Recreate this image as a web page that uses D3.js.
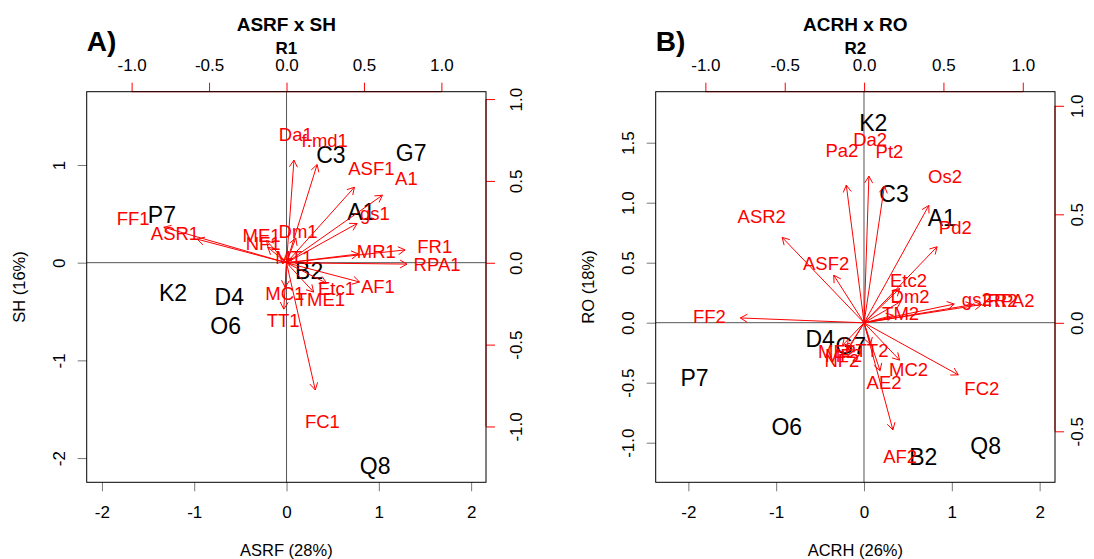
<!DOCTYPE html>
<html>
<head>
<meta charset="utf-8">
<script src="https://cdn.jsdelivr.net/npm/d3@7"></script>
<style>
  body { margin: 0; background: #fff; }
  svg { display: block; }
</style>
</head>
<body>
<svg id="chart" width="1094" height="559"></svg>
<script>
// ---- Panel A: ASRF x SH (R1) ----
const sampleNamesA = ["P7", "K2", "D4", "O6", "C3", "G7", "A1", "B2", "Q8"];
const sampleXA = [-1.35, -1.23, -0.62, -0.66, 0.48, 1.35, 0.81, 0.245, 0.96];
const sampleYA = [0.49, -0.31, -0.35, -0.65, 1.11, 1.13, 0.52, -0.08, -2.08];

const varNamesA = ["Da1", "f.md1", "ASF1", "A1", "gs1", "MR1", "FR1", "RPA1", "AF1", "Etc1",
                   "TME1", "MC1", "TT1", "FC1", "FF1", "ASR1", "ME1", "NF1", "Dm1", "MT1"];
const varXA = [0.06, 0.247, 0.548, 0.774, 0.57, 0.58, 0.957, 0.972, 0.59, 0.323,
               0.219, -0.011, -0.022, 0.232, -0.99, -0.72, -0.161, -0.151, 0.075, 0.047];
const varYA = [0.784, 0.75, 0.577, 0.516, 0.30, 0.067, 0.098, -0.01, -0.147, -0.156,
               -0.224, -0.187, -0.354, -0.971, 0.271, 0.18, 0.169, 0.118, 0.189, 0.035];

const scoreTicksXA = [-2, -1, 0, 1, 2];
const scoreTicksYA = [-2, -1, 0, 1];
const loadTicksXA = [-1, -0.5, 0, 0.5, 1];
const loadTicksYA = [-1, -0.5, 0, 0.5, 1];

// ---- Panel B: ACRH x RO (R2) ----
const sampleNamesB = ["K2", "C3", "A1", "D4", "G7", "P7", "O6", "B2", "Q8"];
const sampleXB = [0.106, 0.342, 0.885, -0.50, -0.15, -1.93, -0.88, 0.675, 1.386];
const sampleYB = [1.667, 1.078, 0.878, -0.13, -0.19, -0.455, -0.867, -1.117, -1.025];

const varNamesB = ["Da2", "Pa2", "Pt2", "Os2", "ASR2", "ASF2", "Pd2", "Etc2", "Dm2", "TM2",
                   "gs2", "FR2", "RPA2", "FF2", "MC2", "AE2", "FC2", "AF2", "NF2", "ME2", "MF2", "TT2"];
const varXB = [0.038, -0.14, 0.16, 0.51, -0.645, -0.239, 0.575, 0.28, 0.29, 0.23,
               0.71, 0.857, 0.926, -0.975, 0.28, 0.126, 0.742, 0.227, -0.14, -0.17, -0.13, 0.05];
const varYB = [0.845, 0.793, 0.788, 0.676, 0.492, 0.274, 0.438, 0.197, 0.123, 0.043,
               0.108, 0.105, 0.105, 0.028, -0.215, -0.276, -0.30, -0.617, -0.172, -0.13, -0.15, -0.126];

const scoreTicksXB = [-2, -1, 0, 1, 2];
const scoreTicksYB = [-1, -0.5, 0, 0.5, 1, 1.5];
const loadTicksXB = [-1, -0.5, 0, 0.5, 1];
const loadTicksYB = [-0.5, 0, 0.5, 1];

// ---- layout / styling ----
const FONT = "'Liberation Sans', Arial, Helvetica, sans-serif";
const RED = "#ff0000";
const ARROW_SCALE = 0.8;   // arrows reach 0.8 of each loading, labels sit at the loading
const HEAD = 8;            // arrowhead arm length in px

const panels = [
  {
    tag: "A)", title: "ASRF x SH", sub: "R1", xlab: "ASRF (28%)", ylab: "SH (16%)",
    box: { x0: 86.7, x1: 486, y0: 91.7, y1: 482.3 },
    xDom: [-2.165, 2.161], yDom: [-2.248, 1.750],
    x2Dom: [-1.290, 1.288], y2Dom: [-1.341, 1.045],
    rightLabelOffset: 35.6,
    sNames: sampleNamesA, sX: sampleXA, sY: sampleYA,
    vNames: varNamesA, vX: varXA, vY: varYA,
    tx: scoreTicksXA, ty: scoreTicksYA, t2x: loadTicksXA, t2y: loadTicksYA,
    fx: d => String(d), fy: d => String(d)
  },
  {
    tag: "B)", title: "ACRH x RO", sub: "R2", xlab: "ACRH (26%)", ylab: "RO (18%)",
    box: { x0: 655.7, x1: 1055, y0: 91.7, y1: 482.3 },
    xDom: [-2.372, 2.175], yDom: [-1.330, 1.925],
    x2Dom: [-1.313, 1.203], y2Dom: [-0.735, 1.065],
    rightLabelOffset: 28,
    sNames: sampleNamesB, sX: sampleXB, sY: sampleYB,
    vNames: varNamesB, vX: varXB, vY: varYB,
    tx: scoreTicksXB, ty: scoreTicksYB, t2x: loadTicksXB, t2y: loadTicksYB,
    fx: d => String(d), fy: d => d.toFixed(1)
  }
];

const svg = d3.select("#chart");
const dec1 = d => d.toFixed(1);

function drawPanel(p) {
  const b = p.box;
  const x = d3.scaleLinear().domain(p.xDom).range([b.x0, b.x1]);
  const y = d3.scaleLinear().domain(p.yDom).range([b.y1, b.y0]);
  const x2 = d3.scaleLinear().domain(p.x2Dom).range([b.x0, b.x1]);
  const y2 = d3.scaleLinear().domain(p.y2Dom).range([b.y1, b.y0]);
  const g = svg.append("g").attr("font-family", FONT);

  // reference lines through the origin
  g.append("line").attr("x1", b.x0).attr("x2", b.x1).attr("y1", y(0)).attr("y2", y(0))
    .attr("stroke", "#555").attr("stroke-width", 1);
  g.append("line").attr("x1", x(0)).attr("x2", x(0)).attr("y1", b.y0).attr("y2", b.y1)
    .attr("stroke", "#555").attr("stroke-width", 1);

  // observation labels
  g.append("g").selectAll("text").data(p.sNames).join("text")
    .attr("x", (d, i) => x(p.sX[i])).attr("y", (d, i) => y(p.sY[i]))
    .attr("dy", "0.36em").attr("text-anchor", "middle")
    .attr("font-size", 23).attr("fill", "#000").text(d => d);

  // score axes (bottom / left)
  const axB = g.append("g").attr("transform", `translate(0,${b.y1})`)
    .call(d3.axisBottom(x).tickValues(p.tx).tickSize(9).tickFormat(p.fx));
  axB.select(".domain").remove();
  axB.selectAll(".tick line").attr("stroke", "#777");
  axB.selectAll(".tick text").attr("y", 36).attr("dy", 0)
    .attr("font-size", 17).attr("fill", "#000").attr("font-family", FONT);

  const axL = g.append("g").attr("transform", `translate(${b.x0},0)`)
    .call(d3.axisLeft(y).tickValues(p.ty).tickSize(9).tickFormat(p.fy));
  axL.select(".domain").remove();
  axL.selectAll(".tick line").attr("stroke", "#777");
  axL.selectAll(".tick text").attr("x", 0).attr("y", -22).attr("dy", 0)
    .attr("text-anchor", "middle").attr("transform", "rotate(-90)")
    .attr("font-size", 17).attr("fill", "#000").attr("font-family", FONT);

  // loading axes (top / right), red
  const axT = g.append("g").attr("transform", `translate(0,${b.y0})`)
    .call(d3.axisTop(x2).tickValues(p.t2x).tickSize(9).tickFormat(dec1));
  axT.select(".domain").remove();
  axT.selectAll(".tick line").attr("stroke", RED);
  axT.selectAll(".tick text").attr("y", -20.7).attr("dy", 0)
    .attr("font-size", 17).attr("fill", "#000").attr("font-family", FONT);
  g.append("line").attr("x1", x2(p.t2x[0])).attr("x2", x2(p.t2x[p.t2x.length - 1]))
    .attr("y1", b.y0).attr("y2", b.y0).attr("stroke", RED);

  const axR = g.append("g").attr("transform", `translate(${b.x1},0)`)
    .call(d3.axisRight(y2).tickValues(p.t2y).tickSize(9).tickFormat(dec1));
  axR.select(".domain").remove();
  axR.selectAll(".tick line").attr("stroke", RED);
  axR.selectAll(".tick text").attr("x", 0).attr("y", p.rightLabelOffset).attr("dy", 0)
    .attr("text-anchor", "middle").attr("transform", "rotate(-90)")
    .attr("font-size", 17).attr("fill", "#000").attr("font-family", FONT);
  g.append("line").attr("x1", b.x1).attr("x2", b.x1)
    .attr("y1", y2(p.t2y[0])).attr("y2", y2(p.t2y[p.t2y.length - 1])).attr("stroke", RED);

  // frame
  g.append("rect").attr("x", b.x0).attr("y", b.y0)
    .attr("width", b.x1 - b.x0).attr("height", b.y1 - b.y0)
    .attr("fill", "none").attr("stroke", "#000").attr("stroke-width", 1);

  // variable arrows (open heads)
  const ox = x2(0), oy = y2(0);
  const arrows = g.append("g").attr("stroke", RED).attr("stroke-width", 1).attr("fill", "none");
  p.vNames.forEach((n, i) => {
    const tx = x2(p.vX[i] * ARROW_SCALE), ty = y2(p.vY[i] * ARROW_SCALE);
    const a = Math.atan2(ty - oy, tx - ox);
    const h1 = [tx - HEAD * Math.cos(a - Math.PI / 6), ty - HEAD * Math.sin(a - Math.PI / 6)];
    const h2 = [tx - HEAD * Math.cos(a + Math.PI / 6), ty - HEAD * Math.sin(a + Math.PI / 6)];
    arrows.append("path")
      .attr("d", `M${ox},${oy}L${tx},${ty}M${h1[0]},${h1[1]}L${tx},${ty}L${h2[0]},${h2[1]}`);
  });

  // variable labels
  g.append("g").selectAll("text").data(p.vNames).join("text")
    .attr("x", (d, i) => x2(p.vX[i])).attr("y", (d, i) => y2(p.vY[i]))
    .attr("dy", "0.36em").attr("text-anchor", "middle")
    .attr("font-size", 18.5).attr("fill", RED).text(d => d);

  // titles
  const cx = (b.x0 + b.x1) / 2;
  g.append("text").attr("x", cx).attr("y", 31).attr("text-anchor", "middle")
    .attr("font-size", 19).attr("font-weight", "bold").text(p.title);
  g.append("text").attr("x", cx).attr("y", 53.5).attr("text-anchor", "middle")
    .attr("font-size", 17).attr("font-weight", "bold").text(p.sub);
  g.append("text").attr("x", b.x0).attr("y", 51).attr("text-anchor", "start")
    .attr("font-size", 28).attr("font-weight", "bold").text(p.tag);

  // axis titles
  g.append("text").attr("x", cx).attr("y", b.y1 + 74).attr("text-anchor", "middle")
    .attr("font-size", 16.5).text(p.xlab);
  g.append("text").attr("transform", `translate(${b.x0 - 62},${(b.y0 + b.y1) / 2}) rotate(-90)`)
    .attr("text-anchor", "middle").attr("font-size", 16.5).text(p.ylab);
}

panels.forEach(drawPanel);
</script>
</body>
</html>
